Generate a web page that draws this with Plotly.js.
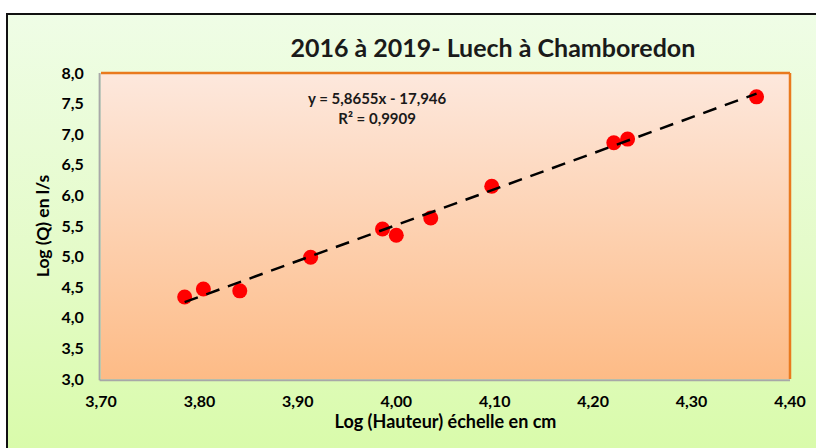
<!DOCTYPE html>
<html>
<head>
<meta charset="utf-8">
<script src="https://cdn.plot.ly/plotly-3.0.1.min.js"></script>
<style>
  html, body { margin: 0; padding: 0; background: #ffffff; }
  #frame { position: absolute; left: 6px; top: 13px; width: 830px; height: 450px;
           border-left: 2px solid #111; border-top: 2px solid #111;
           background: linear-gradient(to bottom, #effde6 0%, #e4fbc8 55%, #d8fba8 100%); }
  #chart { position: absolute; left: 0; top: 0; width: 816px; height: 448px; }
</style>
</head>
<body>
<div id="frame"></div>
<div id="chart"></div>
<script>
// Data
const logHauteur = [3.785, 3.804, 3.841, 3.913, 3.986, 4.000, 4.035, 4.097, 4.221, 4.235, 4.366];
const logQ       = [4.34, 4.47, 4.44, 4.99, 5.45, 5.35, 5.63, 6.15, 6.86, 6.92, 7.61];
const trendSlope = 5.8655;
const trendIntercept = -17.946;
const trendR2 = "0,9909";
const chartTitle = "2016 à 2019- Luech à Chamboredon";
const xTitle = "Log (Hauteur) échelle en cm";
const yTitle = "Log (Q) en l/s";

const xMin = Math.min(...logHauteur), xMax = Math.max(...logHauteur);
const trendX = [xMin, xMax];
const trendY = trendX.map(x => trendSlope * x + trendIntercept);

const fmt = v => String(v).replace('.', ',');
const eqText = "y = " + fmt(trendSlope) + "x - " + fmt(Math.abs(trendIntercept)) + "<br>R² = " + trendR2;

const gradSvg = "<svg xmlns='http://www.w3.org/2000/svg' width='100' height='100' preserveAspectRatio='none'>" +
  "<defs><linearGradient id='g' x1='0' y1='0' x2='0' y2='1'>" +
  "<stop offset='0' stop-color='#fde8dd'/><stop offset='1' stop-color='#fdbb86'/>" +
  "</linearGradient></defs><rect width='100' height='100' fill='url(#g)'/></svg>";
const gradUri = "data:image/svg+xml;charset=utf-8," + encodeURIComponent(gradSvg);

const FONT = "Lato, Open Sans, sans-serif";

const traces = [
  {
    x: logHauteur, y: logQ, type: 'scatter', mode: 'markers',
    marker: { color: '#ff0000', size: 15, line: { width: 0 } },
    hoverinfo: 'x+y', showlegend: false
  },
  {
    x: trendX, y: trendY, type: 'scatter', mode: 'lines',
    line: { color: '#000000', width: 2.5, dash: '14px,9px' },
    hoverinfo: 'skip', showlegend: false
  }
];

const layout = {
  width: 816, height: 448,
  margin: { l: 101, r: 26, t: 73, b: 69, pad: 0 },
  paper_bgcolor: 'rgba(0,0,0,0)',
  plot_bgcolor: 'rgba(0,0,0,0)',
  separators: ', ',
  font: { family: FONT, color: '#000000' },
  title: {
    text: '<b>' + chartTitle + '</b>',
    font: { family: FONT, size: 25, color: '#1a1a1a' },
    xref: 'container', yref: 'container',
    x: 0.604, xanchor: 'center', y: 0.893, yanchor: 'middle'
  },
  xaxis: {
    range: [3.70, 4.40], dtick: 0.1, tick0: 3.7, tickformat: '.2f',
    showgrid: false, zeroline: false, showline: false,
    ticks: 'outside', ticklen: 8, tickcolor: 'rgba(0,0,0,0)',
    tickfont: { family: FONT, size: 16, color: '#000', weight: 'bold' },
    title: { text: '<b>' + xTitle + '</b>', font: { family: FONT, size: 18, color: '#000' }, standoff: 5 },
    fixedrange: true
  },
  yaxis: {
    range: [3.0, 8.0], dtick: 0.5, tick0: 3, tickformat: '.1f',
    showgrid: false, zeroline: false, showline: false,
    ticks: 'outside', ticklen: 13, tickcolor: 'rgba(0,0,0,0)',
    tickfont: { family: FONT, size: 16, color: '#000', weight: 'bold' },
    title: { text: '<b>' + yTitle + '</b>', font: { family: FONT, size: 17.5, color: '#000' }, standoff: 7 },
    fixedrange: true
  },
  images: [{
    source: gradUri, xref: 'paper', yref: 'paper', x: 0, y: 1,
    sizex: 1, sizey: 1, xanchor: 'left', yanchor: 'top',
    sizing: 'stretch', layer: 'below'
  }],
  shapes: [
    { type: 'line', xref: 'paper', yref: 'paper', x0: -0.002, x1: -0.002, y0: -0.004, y1: 1, line: { color: '#a8a8a8', width: 2 } },
    { type: 'line', xref: 'paper', yref: 'paper', x0: -0.002, x1: 1, y0: -0.004, y1: -0.004, line: { color: '#a8a8a8', width: 2 } },
    { type: 'line', xref: 'paper', yref: 'paper', x0: 0, x1: 1, y0: 1, y1: 1, line: { color: '#e97a1e', width: 2.5 } },
    { type: 'line', xref: 'paper', yref: 'paper', x0: 1, x1: 1, y0: 0, y1: 1, line: { color: '#e97a1e', width: 2.5 } }
  ],
  annotations: [{
    text: '<b>' + eqText + '</b>', xref: 'paper', yref: 'paper',
    x: 0.4006, y: 0.886, xanchor: 'center', yanchor: 'middle', align: 'center',
    showarrow: false, font: { family: FONT, size: 15, color: '#1a1a1a' }
  }]
};

Plotly.newPlot('chart', traces, layout, { displayModeBar: false, staticPlot: true });
</script>
</body>
</html>
